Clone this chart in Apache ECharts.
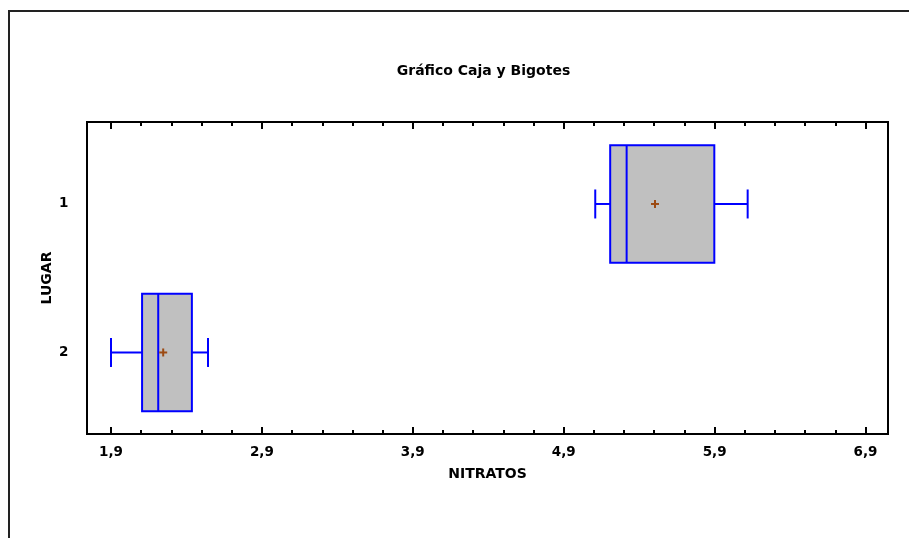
<!DOCTYPE html>
<html>
<head>
<meta charset="utf-8">
<script src="https://cdn.jsdelivr.net/npm/echarts@6/dist/echarts.min.js"></script>
<style>
html,body{margin:0;padding:0;background:#fff;}
#chart{width:909px;height:538px;}
</style>
</head>
<body>
<div id="chart"></div>
<script>
// ---- data ----
const categories = ['1', '2'];          // LUGAR
const yPositions = [1, 2];
const minVals    = [5.109, 1.900];
const q1Vals     = [5.208, 2.106];
const medianVals = [5.317, 2.213];
const q3Vals     = [5.898, 2.436];
const maxVals    = [6.119, 2.543];
const meanVals   = [5.505, 2.246];
const majorTicks = [1.9, 2.9, 3.9, 4.9, 5.9, 6.9];
const minorTicks = [1.9, 2.1, 2.3, 2.5, 2.7, 2.9, 3.1, 3.3, 3.5, 3.7, 3.9, 4.1, 4.3,
                    4.5, 4.7, 4.9, 5.1, 5.3, 5.5, 5.7, 5.9, 6.1, 6.3, 6.5, 6.7, 6.9];
const titleText = 'Gráfico Caja y Bigotes';
const xName = 'NITRATOS';
const yName = 'LUGAR';

// ---- styles ----
const FONT = '"DejaVu Sans", sans-serif';
const X_MIN = 1.741, X_MAX = 7.049;
const Y_MIN = 0.448, Y_MAX = 2.549;
const BOX_H = 0.79;      // box height in axis units
const CAP = 14.5;        // whisker cap half height px
const BLUE = '#0000ff';
const FILL = '#c0c0c0';
const MEAN_COLOR = '#9c4a12';

const fmt = v => v.toFixed(1).replace('.', ',');

const data = categories.map((c, i) => [yPositions[i], minVals[i], q1Vals[i], medianVals[i], q3Vals[i], maxVals[i], meanVals[i]]);

function baseX(pos, extra) {
  return Object.assign({
    type: 'value', position: pos, min: X_MIN, max: X_MAX,
    axisLine: { show: false }, splitLine: { show: false },
    axisLabel: { show: false }
  }, extra);
}

const chart = echarts.init(document.getElementById('chart'), null, { renderer: 'canvas' });
chart.setOption({
  animation: false,
  backgroundColor: '#fff',
  grid: { left: 87, top: 122, width: 801, height: 312, show: true, borderColor: '#000', borderWidth: 2, backgroundColor: 'transparent' },
  graphic: [
    { type: 'rect', shape: { x: 9, y: 11, width: 1000, height: 700 }, style: { fill: 'none', stroke: '#222', lineWidth: 2 }, z: -1 },
    { type: 'text', x: 483.5, y: 71, style: { text: titleText, font: 'bold 14px ' + FONT, fill: '#000', align: 'center', verticalAlign: 'middle' } }
  ],
  xAxis: [
    baseX('bottom', { axisTick: { show: true, inside: true, length: 4, customValues: minorTicks, lineStyle: { color: '#000', width: 2 } } }),
    baseX('bottom', {
      axisTick: { show: true, inside: true, length: 7, customValues: majorTicks, lineStyle: { color: '#000', width: 2 } },
      axisLabel: { show: true, customValues: majorTicks, formatter: fmt, color: '#000', fontFamily: FONT, fontWeight: 'bold', fontSize: 13.5, margin: 11.5 },
      name: xName, nameLocation: 'middle', nameGap: 33, nameMoveOverlap: false,
      nameTextStyle: { color: '#000', fontFamily: FONT, fontWeight: 'bold', fontSize: 14 }
    }),
    baseX('top', { axisTick: { show: true, inside: true, length: 4, customValues: minorTicks, lineStyle: { color: '#000', width: 2 } } }),
    baseX('top', { axisTick: { show: true, inside: true, length: 7, customValues: majorTicks, lineStyle: { color: '#000', width: 2 } } })
  ],
  yAxis: {
    type: 'value', inverse: true, min: Y_MIN, max: Y_MAX,
    axisLine: { show: false }, axisTick: { show: false }, splitLine: { show: false },
    axisLabel: { show: true, customValues: yPositions, formatter: v => categories[yPositions.indexOf(v)] || '',
      color: '#000', fontFamily: FONT, fontWeight: 'bold', fontSize: 13.5, margin: 18.5, padding: [3, 0, 0, 0] },
    name: yName, nameLocation: 'middle', nameGap: 32.5, nameRotate: 90, nameMoveOverlap: false,
    nameTextStyle: { color: '#000', fontFamily: FONT, fontWeight: 'bold', fontSize: 14 }
  },
  series: [{
    type: 'custom',
    xAxisIndex: 0, yAxisIndex: 0,
    data: data,
    encode: { x: [1, 2, 3, 4, 5, 6], y: 0 },
    renderItem: function (params, api) {
      const y = api.value(0);
      const pMin = api.coord([api.value(1), y]);
      const pQ1 = api.coord([api.value(2), y]);
      const pMed = api.coord([api.value(3), y]);
      const pQ3 = api.coord([api.value(4), y]);
      const pMax = api.coord([api.value(5), y]);
      const pMean = api.coord([api.value(6), y]);
      const halfH = api.size([0, BOX_H])[1] / 2;
      const cy = pMin[1];
      const ls = { stroke: BLUE, lineWidth: 2, fill: null };
      return {
        type: 'group',
        children: [
          { type: 'line', shape: { x1: pMin[0], y1: cy, x2: pQ1[0], y2: cy }, style: ls },
          { type: 'line', shape: { x1: pQ3[0], y1: cy, x2: pMax[0], y2: cy }, style: ls },
          { type: 'line', shape: { x1: pMin[0], y1: cy - CAP, x2: pMin[0], y2: cy + CAP }, style: ls },
          { type: 'line', shape: { x1: pMax[0], y1: cy - CAP, x2: pMax[0], y2: cy + CAP }, style: ls },
          { type: 'rect', shape: { x: pQ1[0], y: cy - halfH, width: pQ3[0] - pQ1[0], height: 2 * halfH }, style: { fill: FILL, stroke: BLUE, lineWidth: 2 } },
          { type: 'line', shape: { x1: pMed[0], y1: cy - halfH, x2: pMed[0], y2: cy + halfH }, style: ls },
          { type: 'line', shape: { x1: pMean[0] - 4, y1: pMean[1], x2: pMean[0] + 4, y2: pMean[1] }, style: { stroke: MEAN_COLOR, lineWidth: 2 } },
          { type: 'line', shape: { x1: pMean[0], y1: pMean[1] - 4, x2: pMean[0], y2: pMean[1] + 4 }, style: { stroke: MEAN_COLOR, lineWidth: 2 } }
        ]
      };
    }
  }]
});
</script>
</body>
</html>
